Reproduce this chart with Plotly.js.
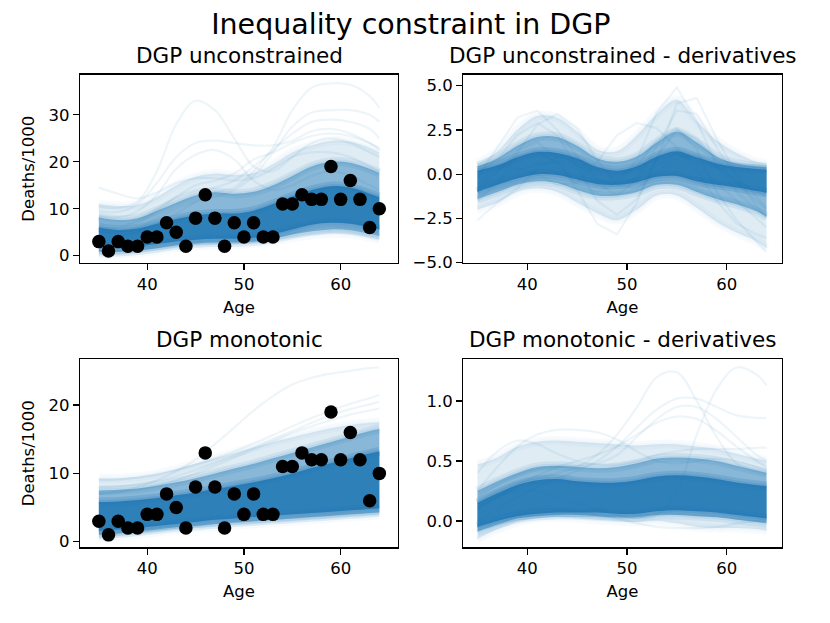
<!DOCTYPE html>
<html>
<head>
<meta charset="utf-8">
<script src="https://cdn.plot.ly/plotly-3.0.1.min.js"></script>
<style>html,body{margin:0;padding:0;background:#fff;}#chart{width:830px;height:623px;}</style>
</head>
<body>
<div id="chart"></div>
<script>
// ---------------- data ----------------
const obsAge = [35,36,37,38,39,40,41,42,43,44,45,46,47,48,49,50,51,52,53,54,55,56,57,58,59,60,61,62,63,64];
const obsDeaths = [3,1,3,2,2,4,4,7,5,2,8,13,8,2,7,4,7,4,4,11,11,13,12,12,19,12,16,12,6,10];

// sample-curve grid (age)
const ages = [35,37,39,41,43,45,47,49,51,53,55,57,59,61,63,64];

// Panel 1: DGP unconstrained (deaths/1000) - density bands of the posterior samples
const unc_coreLo  = [2.0,1.8,2.0,2.5,3.0,3.4,3.6,3.6,3.8,4.6,5.6,6.6,7.0,6.8,6.0,5.6];
const unc_coreHi  = [6.0,5.5,5.8,6.8,7.8,8.6,9.0,9.0,9.6,11.0,12.6,14.0,14.8,14.5,13.2,12.5];
const unc_midLo   = [0.8,0.8,1.1,1.6,2.2,2.6,2.8,2.8,3.0,3.6,4.5,5.2,5.6,5.4,4.6,4.2];
const unc_midHi   = [8.2,7.6,8.0,9.6,11.3,12.8,13.5,13.2,13.6,15.0,17.0,19.0,20.0,19.8,18.5,17.6];
const unc_outLo   = [0.2,0.2,0.6,1.1,1.7,2.1,2.3,2.4,2.6,3.1,3.8,4.4,4.8,4.6,3.9,3.5];
const unc_outHi   = [11.0,10.6,10.8,12.5,15.0,16.8,17.5,17.2,17.6,19.5,22.0,23.5,24.5,24.3,23.0,22.0];
const unc_samples = [
  [14.5,13.2,12.2,13.5,15.5,16.5,16.5,16.0,16.5,18.5,21.0,22.0,22.0,21.0,19.0,18.0],
  [10.5,10.2,11.5,18.0,28.0,33.0,31.0,25.0,19.0,18.0,21.0,24.0,25.0,24.0,22.0,21.0],
  [9.5,9.3,11.0,15.5,21.0,24.0,24.5,24.0,23.5,23.5,24.5,26.5,27.0,26.0,24.0,23.0],
  [8.5,8.2,9.5,13.0,18.5,21.5,22.5,20.5,16.0,14.0,15.0,17.0,18.0,17.0,15.0,14.0],
  [4.0,4.0,5.0,7.0,9.0,11.5,13.5,14.5,18.0,23.0,31.0,35.8,36.7,36.4,34.0,31.5],
  [5.0,5.0,6.0,8.0,10.0,11.5,12.5,14.0,17.0,22.0,27.5,30.5,31.0,31.0,30.0,28.5],
  [6.0,6.0,7.5,10.0,12.5,14.0,14.5,16.0,19.0,22.5,26.0,28.5,29.0,28.5,27.0,25.0],
  [7.0,6.5,7.0,9.5,12.5,15.0,16.0,17.5,20.5,22.0,24.0,25.5,26.0,25.5,24.0,22.5]
];

// Panel 2: DGP unconstrained - derivatives
const uncD_coreLo = [-1.0,-0.6,-0.25,0.0,-0.05,-0.3,-0.55,-0.6,-0.45,-0.15,-0.1,-0.4,-0.6,-0.75,-0.95,-1.05];
const uncD_coreHi = [0.2,0.5,0.95,1.25,1.2,0.9,0.4,0.2,0.45,1.0,1.3,0.95,0.6,0.4,0.3,0.25];
const uncD_midLo  = [-1.4,-1.0,-0.6,-0.4,-0.5,-0.9,-1.2,-1.2,-1.0,-0.6,-0.6,-1.0,-1.4,-1.7,-2.1,-2.4];
const uncD_midHi  = [0.45,0.9,1.6,2.1,2.1,1.6,0.9,0.7,1.0,1.8,2.4,1.8,1.0,0.6,0.45,0.4];
const uncD_outLo  = [-2.0,-1.6,-1.0,-0.8,-1.0,-1.6,-2.2,-2.6,-2.0,-1.2,-1.2,-1.9,-2.7,-3.3,-3.8,-4.2];
const uncD_outHi  = [0.6,1.3,2.5,3.3,3.2,2.4,1.4,1.3,2.2,3.4,4.2,3.0,1.9,1.2,0.7,0.6];
const uncD_samples = [
  [-0.5,0.2,1.0,1.3,0.6,-0.6,-1.0,-0.5,0.8,3.5,4.9,3.0,0.5,-1.0,-2.0,-2.4],
  [-0.8,0.1,1.3,1.8,0.9,-0.9,-2.8,-3.4,-1.6,1.0,2.5,2.0,0.8,-0.5,-1.5,-2.0],
  [-0.2,1.5,3.2,3.6,2.5,1.0,-0.3,-0.6,-0.2,0.5,1.2,0.6,-0.5,-1.5,-2.5,-3.0],
  [-0.6,-0.3,0.2,0.6,0.7,0.5,0.0,-0.2,0.5,1.9,2.6,1.4,-1.0,-2.6,-3.8,-4.4],
  [-1.5,-0.5,1.2,2.8,3.4,2.6,0.8,-0.6,-0.8,0.1,0.9,1.1,0.4,-0.4,-1.0,-1.2],
  [-2.6,-1.6,-0.8,0.3,1.0,0.6,-0.5,-1.2,-0.3,1.6,3.6,3.4,1.5,-0.2,-1.8,-2.5],
  [0.3,0.5,0.3,0.0,-0.6,-0.5,0.7,2.2,2.9,2.6,1.5,0.2,-1.5,-2.8,-3.4,-3.6],
  [0.1,0.8,2.2,2.9,2.2,0.4,-1.5,-2.3,-1.4,0.8,4.0,4.3,2.0,0.0,-1.3,-1.9]
];

// Panel 3: DGP monotonic (deaths/1000)
const mon_coreLo = [1.6,1.8,2.0,2.3,2.6,2.9,3.2,3.4,3.6,3.8,4.0,4.2,4.4,4.6,4.8,4.9];
const mon_coreHi = [5.8,5.9,6.1,6.4,6.8,7.2,7.7,8.2,8.7,9.3,10.0,10.8,11.5,12.2,12.9,13.2];
const mon_midLo  = [1.0,1.2,1.5,1.8,2.1,2.3,2.6,2.8,3.0,3.2,3.4,3.6,3.8,4.0,4.2,4.3];
const mon_midHi  = [7.5,7.6,7.8,8.2,8.7,9.3,10.0,10.7,11.4,12.2,13.0,13.8,14.6,15.4,16.2,16.5];
const mon_outLo  = [0.5,0.8,1.1,1.4,1.7,2.0,2.2,2.4,2.6,2.8,3.0,3.2,3.4,3.6,3.8,3.9];
const mon_outHi  = [9.3,9.3,9.5,9.9,10.6,11.4,12.2,13.0,13.8,14.6,15.3,16.0,16.6,17.1,17.4,17.5];
const mon_samples = [
  [7.0,7.3,8.0,9.0,10.3,12.0,14.3,16.7,19.2,21.3,23.0,24.0,24.6,25.0,25.4,25.5],
  [9.0,9.1,9.4,9.9,10.5,11.3,12.2,13.2,14.4,15.6,16.9,18.1,19.2,20.2,21.0,21.5],
  [8.0,8.1,8.4,8.9,9.6,10.5,11.5,12.6,13.8,15.0,16.2,17.4,18.5,19.4,20.1,20.5],
  [7.0,7.2,7.6,8.2,9.0,10.0,11.1,12.3,13.5,14.7,15.9,16.9,17.8,18.6,19.2,19.5]
];

// Panel 4: DGP monotonic - derivatives
const monD_coreLo = [-0.05,0.0,0.04,0.06,0.07,0.07,0.07,0.06,0.06,0.08,0.09,0.08,0.07,0.05,0.03,0.02];
const monD_coreHi = [0.15,0.23,0.30,0.34,0.35,0.33,0.32,0.32,0.34,0.37,0.38,0.37,0.35,0.32,0.30,0.29];
const monD_midLo  = [-0.09,-0.03,0.02,0.04,0.05,0.05,0.04,0.03,0.03,0.05,0.05,0.04,0.03,0.01,-0.01,-0.02];
const monD_midHi  = [0.25,0.33,0.40,0.45,0.46,0.45,0.44,0.45,0.48,0.52,0.53,0.52,0.50,0.46,0.42,0.40];
const monD_outLo  = [-0.15,-0.07,-0.01,0.02,0.03,0.02,0.01,0.0,-0.01,0.0,-0.02,-0.05,-0.06,-0.06,-0.07,-0.08];
const monD_outHi  = [0.47,0.53,0.62,0.66,0.67,0.66,0.65,0.64,0.63,0.64,0.64,0.62,0.60,0.56,0.52,0.50];
const monD_samples = [
  [0.15,0.25,0.32,0.36,0.40,0.45,0.55,0.72,0.95,1.20,1.24,1.00,0.70,0.48,0.42,0.40],
  [0.10,0.20,0.25,0.25,0.20,0.15,0.10,0.05,0.02,0.05,0.25,0.72,1.10,1.28,1.22,1.13],
  [0.00,0.10,0.20,0.28,0.35,0.42,0.50,0.62,0.78,0.93,1.02,1.02,0.95,0.88,0.86,0.86],
  [0.20,0.30,0.38,0.43,0.45,0.46,0.48,0.55,0.70,0.85,0.95,0.95,0.85,0.70,0.55,0.50],
  [0.10,0.20,0.30,0.38,0.45,0.50,0.55,0.62,0.72,0.82,0.87,0.85,0.75,0.62,0.50,0.45],
  [0.25,0.45,0.62,0.72,0.76,0.76,0.74,0.68,0.58,0.50,0.48,0.50,0.52,0.50,0.45,0.42],
  [0.40,0.58,0.67,0.64,0.56,0.50,0.47,0.47,0.50,0.55,0.58,0.60,0.60,0.60,0.61,0.61],
  [0.00,0.05,0.08,0.10,0.10,0.08,0.05,0.02,-0.02,-0.05,-0.06,-0.06,-0.05,-0.02,0.00,0.01]
];

// ---------------- build traces ----------------
const W = 830, H = 623;
const BLUE = '31,119,180';
const traces = [];
const rgba = a => 'rgba(' + BLUE + ',' + a + ')';

function band(lo, hi, alpha, xa, ya) {
  // filled band
  traces.push({x: ages, y: lo, xaxis: xa, yaxis: ya, type: 'scatter', mode: 'lines',
    line: {width: 0, shape: 'spline', smoothing: 1}, hoverinfo: 'skip', showlegend: false});
  traces.push({x: ages, y: hi, xaxis: xa, yaxis: ya, type: 'scatter', mode: 'lines',
    fill: 'tonexty', fillcolor: rgba(alpha),
    line: {width: 0, shape: 'spline', smoothing: 1}, hoverinfo: 'skip', showlegend: false});
  // soft edges of the band
  [lo, hi].forEach(edge => [9, 4].forEach(w => traces.push({x: ages, y: edge, xaxis: xa, yaxis: ya,
    type: 'scatter', mode: 'lines', line: {width: w, color: rgba(alpha * 0.22), shape: 'spline', smoothing: 1},
    hoverinfo: 'skip', showlegend: false})));
}
function samples(list, xa, ya, shape) {
  list.forEach(s => traces.push({x: ages, y: s, xaxis: xa, yaxis: ya, type: 'scatter', mode: 'lines',
    line: {width: 2.2, color: rgba(0.075), shape: shape, smoothing: 1},
    hoverinfo: 'skip', showlegend: false}));
}
function panel(p, xa, ya, shape) {
  band(p.outLo, p.outHi, 0.14, xa, ya);
  band(p.midLo, p.midHi, 0.45, xa, ya);
  band(p.coreLo, p.coreHi, 0.85, xa, ya);
  samples(p.samples, xa, ya, shape);
}
panel({outLo: unc_outLo, outHi: unc_outHi, midLo: unc_midLo, midHi: unc_midHi, coreLo: unc_coreLo, coreHi: unc_coreHi, samples: unc_samples}, 'x', 'y', 'spline');
traces.push({x: obsAge, y: obsDeaths, xaxis: 'x', yaxis: 'y', type: 'scatter', mode: 'markers',
  marker: {color: 'black', size: 13.5}, showlegend: false});
panel({outLo: uncD_outLo, outHi: uncD_outHi, midLo: uncD_midLo, midHi: uncD_midHi, coreLo: uncD_coreLo, coreHi: uncD_coreHi, samples: uncD_samples}, 'x2', 'y2', 'linear');
panel({outLo: mon_outLo, outHi: mon_outHi, midLo: mon_midLo, midHi: mon_midHi, coreLo: mon_coreLo, coreHi: mon_coreHi, samples: mon_samples}, 'x3', 'y3', 'spline');
traces.push({x: obsAge, y: obsDeaths, xaxis: 'x3', yaxis: 'y3', type: 'scatter', mode: 'markers',
  marker: {color: 'black', size: 13.5}, showlegend: false});
panel({outLo: monD_outLo, outHi: monD_outHi, midLo: monD_midLo, midHi: monD_midHi, coreLo: monD_coreLo, coreHi: monD_coreHi, samples: monD_samples}, 'x4', 'y4', 'spline');

// ---------------- layout ----------------
const FONT = 'DejaVu Sans, Verdana, sans-serif';
const px2x = v => v / W;
const px2y = v => 1 - v / H;
const L = [80, 398], R = [463.3, 781.7], T = [74.7, 262.7], B = [359.3, 547.3];

function ax(domain, range, extra) {
  return Object.assign({
    domain: domain, range: range, showline: true, linecolor: 'black', linewidth: 1.3, mirror: true,
    ticks: 'outside', ticklen: 6, tickwidth: 1.3, tickcolor: 'black', showgrid: false, zeroline: false,
    tickfont: {family: FONT, size: 16.5, color: 'black'}, fixedrange: true
  }, extra || {});
}
const xTitle = {text: 'Age', font: {family: FONT, size: 16.5, color: 'black'}, standoff: 8};
const yTitle = {text: 'Deaths/1000', font: {family: FONT, size: 16.5, color: 'black'}, standoff: 9};

const layout = {
  width: W, height: H, margin: {l: 0, r: 0, t: 0, b: 0}, paper_bgcolor: 'white', plot_bgcolor: 'white',
  showlegend: false,
  title: {text: 'Inequality constraint in DGP', font: {family: FONT, size: 28.5, color: 'black'},
    x: 0.495, xanchor: 'center', y: px2y(24), yanchor: 'middle'},
  xaxis: ax([px2x(L[0]), px2x(L[1])], [33.05, 65.93], {tickvals: [40, 50, 60], title: xTitle, anchor: 'y'}),
  yaxis: ax([px2y(T[1]), px2y(T[0])], [-1.49, 38.55], {tickvals: [0, 10, 20, 30], title: yTitle, anchor: 'x'}),
  xaxis2: ax([px2x(R[0]), px2x(R[1])], [33.58, 65.52], {tickvals: [40, 50, 60], title: xTitle, anchor: 'y2'}),
  yaxis2: ax([px2y(T[1]), px2y(T[0])], [-5, 5.62], {tickvals: [-5, -2.5, 0, 2.5, 5], tickformat: '.1f', anchor: 'x2'}),
  xaxis3: ax([px2x(L[0]), px2x(L[1])], [33.05, 65.93], {tickvals: [40, 50, 60], title: xTitle, anchor: 'y3'}),
  yaxis3: ax([px2y(B[1]), px2y(B[0])], [-0.82, 26.7], {tickvals: [0, 10, 20], title: yTitle, anchor: 'x3'}),
  xaxis4: ax([px2x(R[0]), px2x(R[1])], [33.58, 65.52], {tickvals: [40, 50, 60], title: xTitle, anchor: 'y4'}),
  yaxis4: ax([px2y(B[1]), px2y(B[0])], [-0.22, 1.348], {tickvals: [0, 0.5, 1.0], tickformat: '.1f', anchor: 'x4'}),
  annotations: [
    ['DGP unconstrained', (L[0] + L[1]) / 2, T[0]],
    ['DGP unconstrained - derivatives', (R[0] + R[1]) / 2, T[0]],
    ['DGP monotonic', (L[0] + L[1]) / 2, B[0]],
    ['DGP monotonic - derivatives', (R[0] + R[1]) / 2, B[0]]
  ].map(a => ({text: a[0], x: px2x(a[1]), y: px2y(a[2]), xref: 'paper', yref: 'paper',
    xanchor: 'center', yanchor: 'bottom', yshift: 5, showarrow: false,
    font: {family: FONT, size: 21.5, color: 'black'}}))
};

Plotly.newPlot('chart', traces, layout, {staticPlot: true, displayModeBar: false});
</script>
</body>
</html>
